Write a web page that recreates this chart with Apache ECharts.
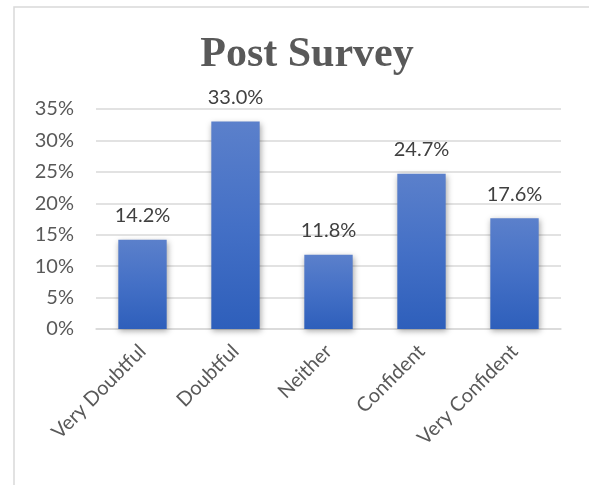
<!DOCTYPE html>
<html><head><meta charset="utf-8">
<script src="https://cdn.jsdelivr.net/npm/echarts@6/dist/echarts.min.js"></script>
<style>html,body{margin:0;padding:0;background:#fff}#c{width:589px;height:485px}</style>
</head><body><div id="c"></div>
<script>
const categories = ['Very Doubtful', 'Doubtful', 'Neither', 'Confident', 'Very Confident'];
const values = [14.2, 33.0, 11.8, 24.7, 17.6];
const yTicks = [0, 5, 10, 15, 20, 25, 30, 35];

const chart = echarts.init(document.getElementById('c'), null, {renderer: 'canvas'});
const txt = {color: '#595959', fontFamily: 'Lato', fontSize: 20};
chart.setOption({
  animation: false,
  backgroundColor: '#fff',
  graphic: [{
    type: 'rect', shape: {x: 14, y: 7, width: 600, height: 500},
    style: {fill: 'none', stroke: '#d9d9d9', lineWidth: 1.5}, silent: true
  }],
  title: {
    text: 'Post Survey', left: 302, top: 29, textAlign: 'center',
    textStyle: {fontFamily: 'Liberation Serif', fontWeight: 'bold', fontSize: 42, color: '#595959'}
  },
  grid: {left: 96, right: 28, top: 109, bottom: 156, containLabel: false},
  xAxis: {
    type: 'category', data: categories,
    axisLine: {show: true, lineStyle: {color: '#d9d9d9', width: 1.5}},
    axisTick: {show: false},
    axisLabel: Object.assign({rotate: 45, margin: 19, interval: 0}, txt)
  },
  yAxis: {
    type: 'value', min: yTicks[0], max: yTicks[yTicks.length - 1], interval: 5,
    axisLine: {show: false}, axisTick: {show: false},
    splitLine: {lineStyle: {color: '#d9d9d9', width: 1.5}},
    axisLabel: Object.assign({formatter: v => v + '%', margin: 22}, txt)
  },
  series: [{
    type: 'bar', data: values, barWidth: '52%',
    itemStyle: {
      color: new echarts.graphic.LinearGradient(0, 0, 0, 1, [
        {offset: 0, color: '#5b80cb'}, {offset: 0.5, color: '#4470c6'}, {offset: 1, color: '#2e5fbb'}
      ]),
      shadowColor: 'rgba(0,0,0,0.35)', shadowBlur: 6, shadowOffsetX: 1, shadowOffsetY: 2
    },
    label: {
      show: true, position: 'top', distance: 14, formatter: p => p.value.toFixed(1) + '%',
      color: '#404040', fontFamily: 'Lato', fontSize: 20
    }
  }]
});
</script></body></html>
